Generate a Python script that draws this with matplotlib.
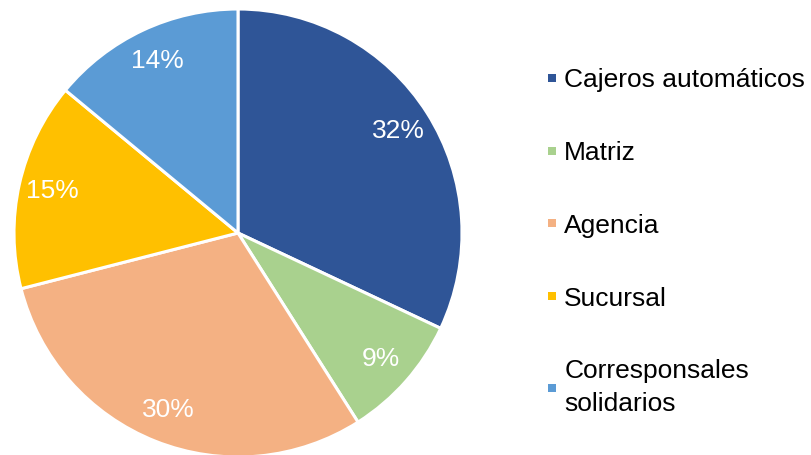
import matplotlib
matplotlib.use("Agg")
import matplotlib.pyplot as plt
from matplotlib.lines import Line2D

categories = ["Cajeros automáticos", "Matriz", "Agencia", "Sucursal", "Corresponsales\nsolidarios"]
values = [32, 9, 30, 15, 14]
colors = ["#2F5597", "#A9D18E", "#F4B183", "#FFC000", "#5B9BD5"]

plt.rcParams['font.family'] = ['Liberation Sans', 'DejaVu Sans']

fig = plt.figure(figsize=(8.11, 4.55), dpi=100)
W, H = 811, 455
cx, cy, r = 238, 233, 224
ax = fig.add_axes([(cx - r) / W, (H - cy - r) / H, 2 * r / W, 2 * r / H])
wedges, texts, autotexts = ax.pie(
    values, colors=colors, startangle=90, counterclock=False,
    autopct='%1.0f%%', pctdistance=0.85,
    wedgeprops=dict(edgecolor='white', linewidth=2.2),
    textprops=dict(color='white', fontsize=19))
ax.set_xlim(-1, 1)
ax.set_ylim(-1, 1)
ax.set_aspect('equal')
ax.axis('off')

handles = [Line2D([], [], linestyle='none', marker='s', markersize=5.8,
                  markerfacecolor=w.get_facecolor(), markeredgewidth=0)
           for w in wedges]
leg = fig.legend(handles, categories, loc='center left', bbox_to_anchor=(547 / W, (H - 242) / H),
                 frameon=False, fontsize=19, handlelength=0.35, handleheight=0.7,
                 handletextpad=0.3, labelspacing=1.85, borderpad=0, borderaxespad=0)
for t in leg.get_texts():
    t.set_linespacing(1.45)
fig.savefig("out.png", dpi=100)
